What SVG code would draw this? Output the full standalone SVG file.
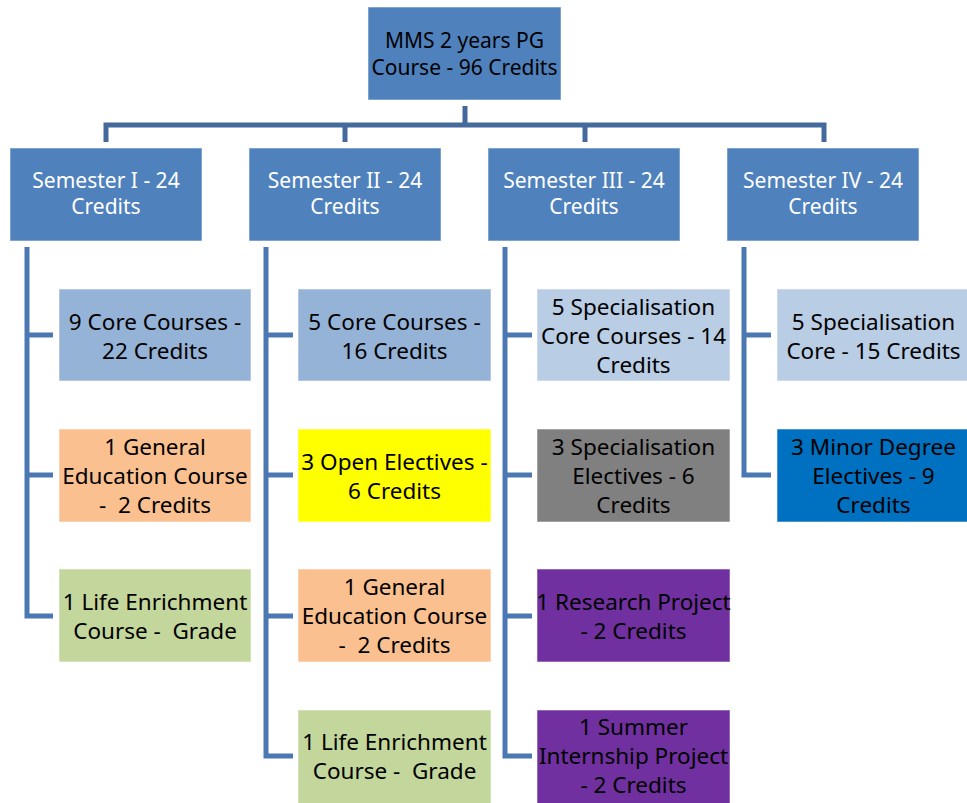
<svg xmlns="http://www.w3.org/2000/svg" width="967" height="803" viewBox="0 0 967 803">
<style>
.bx{stroke:#ffffff;stroke-opacity:0.55;stroke-width:1}
.hd{fill:#4F81BD}
.tw{font-family:"Noto Sans","Open Sans",sans-serif;font-size:21px;fill:#ffffff;text-anchor:middle;white-space:pre}
.tb{font-family:"Noto Sans","Open Sans",sans-serif;font-size:21px;fill:#000000;text-anchor:middle;white-space:pre}
.tc{font-family:"Noto Sans","Open Sans",sans-serif;font-size:22.5px;fill:#000000;text-anchor:middle;white-space:pre}
.c1{fill:none;stroke:#44699C;stroke-width:5}
.c2{fill:none;stroke:#4B78B3;stroke-width:5}
</style>
<rect width="967" height="803" fill="#ffffff"/>
<g id="connectors">
<path class="c1" d="M465 106V125M106 142V125H824V142M345 125V142M585 125V142"/>
<path class="c2" d="M27 247V616H53M27 335H53M27 475H53"/>
<path class="c2" d="M266 247V756H293M266 335H293M266 475H293M266 616H293"/>
<path class="c2" d="M505 247V756H532M505 335H532M505 475H532M505 616H532"/>
<path class="c2" d="M744 247V475H771M744 335H771"/>
</g>
<g id="root">
<rect class="bx hd" x="368" y="7" width="193" height="93"/>
<text class="tb" x="464.5" y="48">MMS 2 years PG</text>
<text class="tb" x="464.5" y="75">Course - 96 Credits</text>
</g>
<g id="sem1">
<rect class="bx hd" x="10" y="148" width="192" height="93"/>
<text class="tw" x="106" y="188">Semester I - 24</text>
<text class="tw" x="106" y="214">Credits</text>
</g>
<g id="sem2">
<rect class="bx hd" x="249" y="148" width="192" height="93"/>
<text class="tw" x="345" y="188">Semester II - 24</text>
<text class="tw" x="345" y="214">Credits</text>
</g>
<g id="sem3">
<rect class="bx hd" x="488" y="148" width="192" height="93"/>
<text class="tw" x="584" y="188">Semester III - 24</text>
<text class="tw" x="584" y="214">Credits</text>
</g>
<g id="sem4">
<rect class="bx hd" x="727" y="148" width="192" height="93"/>
<text class="tw" x="823" y="188">Semester IV - 24</text>
<text class="tw" x="823" y="214">Credits</text>
</g>
<g id="s1-core">
<rect class="bx" fill="#95B3D7" x="59" y="289" width="192" height="92"/>
<text class="tc" x="155" y="330">9 Core Courses -</text>
<text class="tc" x="155" y="359">22 Credits</text>
</g>
<g id="s1-gen">
<rect class="bx" fill="#FAC090" x="59" y="429" width="192" height="93"/>
<text class="tc" x="155" y="455">1 General</text>
<text class="tc" x="155" y="484">Education Course</text>
<text class="tc" x="155" y="513">-  2 Credits</text>
</g>
<g id="s1-life">
<rect class="bx" fill="#C3D69B" x="59" y="569" width="192" height="93"/>
<text class="tc" x="155" y="610">1 Life Enrichment</text>
<text class="tc" x="155" y="639">Course -  Grade</text>
</g>
<g id="s2-core">
<rect class="bx" fill="#95B3D7" x="298" y="289" width="193" height="92"/>
<text class="tc" x="394.5" y="330">5 Core Courses -</text>
<text class="tc" x="394.5" y="359">16 Credits</text>
</g>
<g id="s2-open">
<rect class="bx" fill="#FFFF00" x="298" y="429" width="193" height="93"/>
<text class="tc" x="394.5" y="470">3 Open Electives -</text>
<text class="tc" x="394.5" y="499">6 Credits</text>
</g>
<g id="s2-gen">
<rect class="bx" fill="#FAC090" x="298" y="569" width="193" height="93"/>
<text class="tc" x="394.5" y="595">1 General</text>
<text class="tc" x="394.5" y="624">Education Course</text>
<text class="tc" x="394.5" y="653">-  2 Credits</text>
</g>
<g id="s2-life">
<rect class="bx" fill="#C3D69B" x="298" y="710" width="193" height="95"/>
<text class="tc" x="394.5" y="750">1 Life Enrichment</text>
<text class="tc" x="394.5" y="779">Course -  Grade</text>
</g>
<g id="s3-core">
<rect class="bx" fill="#B9CDE5" x="537" y="289" width="193" height="92"/>
<text class="tc" x="633.5" y="315">5 Specialisation</text>
<text class="tc" x="633.5" y="344">Core Courses - 14</text>
<text class="tc" x="633.5" y="373">Credits</text>
</g>
<g id="s3-elec">
<rect class="bx" fill="#808080" x="537" y="429" width="193" height="93"/>
<text class="tc" x="633.5" y="455">3 Specialisation</text>
<text class="tc" x="633.5" y="484">Electives - 6</text>
<text class="tc" x="633.5" y="513">Credits</text>
</g>
<g id="s3-research">
<rect class="bx" fill="#7030A0" x="537" y="569" width="193" height="93"/>
<text class="tc" x="633.5" y="610">1 Research Project</text>
<text class="tc" x="633.5" y="639">- 2 Credits</text>
</g>
<g id="s3-intern">
<rect class="bx" fill="#7030A0" x="537" y="710" width="193" height="95"/>
<text class="tc" x="633.5" y="735">1 Summer</text>
<text class="tc" x="633.5" y="764">Internship Project</text>
<text class="tc" x="633.5" y="793">- 2 Credits</text>
</g>
<g id="s4-core">
<rect class="bx" fill="#B9CDE5" x="777" y="289" width="193" height="92"/>
<text class="tc" x="873.5" y="330">5 Specialisation</text>
<text class="tc" x="873.5" y="359">Core - 15 Credits</text>
</g>
<g id="s4-minor">
<rect class="bx" fill="#0070C0" x="777" y="429" width="193" height="93"/>
<text class="tc" x="873.5" y="455">3 Minor Degree</text>
<text class="tc" x="873.5" y="484">Electives - 9</text>
<text class="tc" x="873.5" y="513">Credits</text>
</g>
</svg>
